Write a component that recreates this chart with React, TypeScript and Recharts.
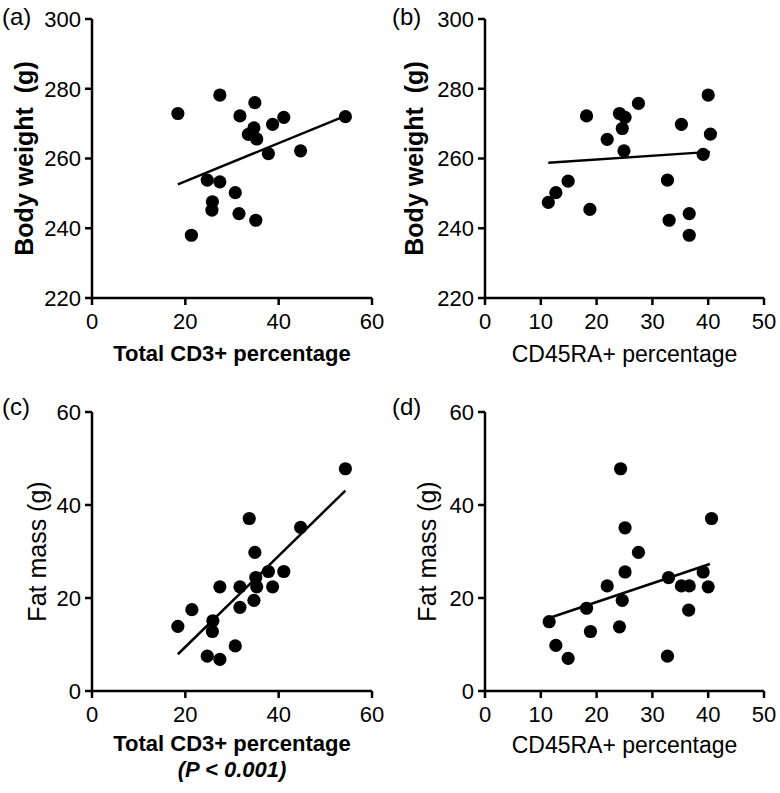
import React from 'react'
import { Scatter, ScatterChart, XAxis, YAxis, Label } from 'recharts'

const FONT = '"Liberation Sans", Arial, Helvetica, sans-serif'

// (a) Body weight vs total CD3+ percentage
const cd3PctA = [18.4, 27.4, 34.9, 31.7, 41.1, 38.7, 34.7, 33.5, 35.3, 37.8, 44.7, 54.3, 24.7, 27.4, 30.7, 25.8, 25.7, 31.5, 35.1, 21.3]
const bodyWeightA = [272.9, 278.2, 276.0, 272.2, 271.8, 269.8, 268.8, 266.9, 265.6, 261.4, 262.2, 272.0, 253.8, 253.3, 250.2, 247.6, 245.2, 244.2, 242.3, 238.0]
const fitA_x = [18.4, 54.3]
const fitA_y = [252.6, 272.2]

// (b) Body weight vs CD45RA+ percentage
const cd45PctB = [11.35, 12.7, 14.9, 18.8, 18.2, 21.9, 24.1, 25.1, 24.6, 24.9, 27.5, 32.7, 33.0, 35.2, 36.6, 36.6, 39.1, 40.0, 40.4]
const bodyWeightB = [247.4, 250.2, 253.5, 245.4, 272.2, 265.5, 272.9, 271.8, 268.6, 262.2, 275.8, 253.8, 242.3, 269.8, 244.2, 238.0, 261.2, 278.2, 267.0]
const fitB_x = [11.35, 40.3]
const fitB_y = [258.8, 261.9]

// (c) Fat mass vs total CD3+ percentage
const cd3PctC = [18.4, 21.4, 25.9, 25.8, 24.7, 27.4, 27.4, 30.7, 31.7, 31.7, 33.7, 34.7, 34.9, 35.1, 35.3, 37.8, 38.7, 41.1, 44.7, 54.3]
const fatMassC = [13.9, 17.5, 15.1, 12.8, 7.5, 6.8, 22.4, 9.7, 22.4, 18.0, 37.1, 19.5, 29.8, 24.4, 22.4, 25.7, 22.4, 25.7, 35.2, 47.8]
const fitC_x = [18.4, 54.3]
const fitC_y = [7.9, 43.1]

// (d) Fat mass vs CD45RA+ percentage
const cd45PctD = [11.5, 12.7, 14.9, 18.2, 18.9, 21.9, 24.1, 24.3, 24.6, 25.1, 25.1, 27.5, 32.9, 32.7, 35.2, 36.6, 36.5, 39.1, 40.0, 40.6]
const fatMassD = [14.9, 9.8, 7.0, 17.8, 12.8, 22.6, 13.8, 47.8, 19.5, 35.1, 25.6, 29.8, 24.4, 7.5, 22.6, 22.6, 17.4, 25.6, 22.4, 37.1]
const fitD_x = [11.5, 40.3]
const fitD_y = [15.7, 27.3]

const cd3Ticks = [0, 20, 40, 60]
const cd45Ticks = [0, 10, 20, 30, 40, 50]
const bodyWeightTicks = [220, 240, 260, 280, 300]
const fatMassTicks = [0, 20, 40, 60]

const zip = (xs: number[], ys: number[]) => xs.map((x, i) => ({ x, y: ys[i] }))

const Dot = (props: any) => <circle cx={props.cx} cy={props.cy} r={6.6} fill="#000" />

interface PanelProps {
  tag: string
  left: number
  top: number
  height: number
  plot: { left: number; right: number; top: number; bottom: number }
  xDomain: [number, number]
  xTicks: number[]
  yDomain: [number, number]
  yTicks: number[]
  points: { x: number; y: number }[]
  fit: { x: number; y: number }[]
  xTitle: string
  xTitleBold: boolean
  xNote?: string
  yTitle: string
  yTitleBold: boolean
  yTitleX: number
  xTitleOffset: number
  tagY: number
}

function Panel(p: PanelProps) {
  const width = 390
  const plotW = p.plot.right - p.plot.left
  const cx = p.plot.left - p.left + plotW / 2
  const cy = (p.plot.top + p.plot.bottom) / 2 - p.top
  const axisStyle = { stroke: '#000', strokeWidth: 2.5 }
  const tickStyle = { fill: '#000', fontSize: 22, fontFamily: FONT }

  return (
    <div style={{ position: 'absolute', left: p.left, top: p.top, width, height: p.height }}>
      <div style={{ position: 'absolute', left: 2, top: p.tagY - p.top - 15, fontFamily: FONT, fontSize: 24, lineHeight: '30px', color: '#000' }}>
        {p.tag}
      </div>
      <ScatterChart
        width={width}
        height={p.height}
        margin={{ top: p.plot.top - p.top, right: p.left + width - p.plot.right, bottom: 0, left: 0 }}
      >
        <XAxis
          type="number"
          dataKey="x"
          domain={p.xDomain}
          ticks={p.xTicks}
          interval={0}
          height={p.top + p.height - p.plot.bottom}
          axisLine={axisStyle}
          tickLine={axisStyle}
          tickSize={7}
          tickMargin={8}
          tick={tickStyle}
        >
          <Label
            content={() => (
              <g>
                <text
                  x={cx}
                  y={p.plot.bottom - p.top + p.xTitleOffset}
                  textAnchor="middle"
                  fontFamily={FONT}
                  fontSize={p.xTitleBold ? 22 : 23}
                  fontWeight={p.xTitleBold ? 'bold' : 'normal'}
                  fill="#000"
                >
                  {p.xTitle}
                </text>
                {p.xNote && (
                  <text
                    x={cx}
                    y={p.plot.bottom - p.top + p.xTitleOffset + 26}
                    textAnchor="middle"
                    fontFamily={FONT}
                    fontSize={22}
                    fontWeight="bold"
                    fontStyle="italic"
                    fill="#000"
                  >
                    {p.xNote}
                  </text>
                )}
              </g>
            )}
          />
        </XAxis>
        <YAxis
          type="number"
          dataKey="y"
          domain={p.yDomain}
          ticks={p.yTicks}
          interval={0}
          width={p.plot.left - p.left}
          axisLine={axisStyle}
          tickLine={axisStyle}
          tickSize={7}
          tickMargin={4}
          tick={tickStyle}
        >
          <Label
            content={() => (
              <text
                x={p.yTitleX}
                y={cy}
                transform={`rotate(-90, ${p.yTitleX}, ${cy})`}
                textAnchor="middle"
                dominantBaseline="central"
                fontFamily={FONT}
                fontSize={25}
                fontWeight={p.yTitleBold ? 'bold' : 'normal'}
                fill="#000"
                style={{ whiteSpace: 'pre' }}
              >
                {p.yTitle}
              </text>
            )}
          />
        </YAxis>
        <Scatter data={p.points} shape={Dot} isAnimationActive={false} />
        <Scatter
          data={p.fit}
          line={{ stroke: '#000', strokeWidth: 2.5 }}
          shape={() => <g />}
          isAnimationActive={false}
        />
      </ScatterChart>
    </div>
  )
}

export default function App() {
  return (
    <div style={{ position: 'absolute', left: 0, top: 0, width: 780, height: 793, background: '#fff' }}>
      <Panel
        tag="(a)"
        left={0}
        top={0}
        height={380}
        plot={{ left: 92, right: 372, top: 19, bottom: 298 }}
        xDomain={[0, 60]}
        xTicks={cd3Ticks}
        yDomain={[220, 300]}
        yTicks={bodyWeightTicks}
        points={zip(cd3PctA, bodyWeightA)}
        fit={zip(fitA_x, fitA_y)}
        xTitle="Total CD3+ percentage"
        xTitleBold
        yTitle="Body weight  (g)"
        yTitleBold
        yTitleX={24}
        xTitleOffset={63}
        tagY={17}
      />
      <Panel
        tag="(b)"
        left={390}
        top={0}
        height={380}
        plot={{ left: 485, right: 764, top: 19, bottom: 298 }}
        xDomain={[0, 50]}
        xTicks={cd45Ticks}
        yDomain={[220, 300]}
        yTicks={bodyWeightTicks}
        points={zip(cd45PctB, bodyWeightB)}
        fit={zip(fitB_x, fitB_y)}
        xTitle="CD45RA+ percentage"
        xTitleBold={false}
        yTitle="Body weight  (g)"
        yTitleBold
        yTitleX={24}
        xTitleOffset={64}
        tagY={17}
      />
      <Panel
        tag="(c)"
        left={0}
        top={380}
        height={413}
        plot={{ left: 92, right: 372, top: 412, bottom: 691 }}
        xDomain={[0, 60]}
        xTicks={cd3Ticks}
        yDomain={[0, 60]}
        yTicks={fatMassTicks}
        points={zip(cd3PctC, fatMassC)}
        fit={zip(fitC_x, fitC_y)}
        xTitle="Total CD3+ percentage"
        xTitleBold
        xNote="(P < 0.001)"
        yTitle="Fat mass (g)"
        yTitleBold={false}
        yTitleX={37}
        xTitleOffset={60}
        tagY={407}
      />
      <Panel
        tag="(d)"
        left={390}
        top={380}
        height={413}
        plot={{ left: 485, right: 764, top: 412, bottom: 691 }}
        xDomain={[0, 50]}
        xTicks={cd45Ticks}
        yDomain={[0, 60]}
        yTicks={fatMassTicks}
        points={zip(cd45PctD, fatMassD)}
        fit={zip(fitD_x, fitD_y)}
        xTitle="CD45RA+ percentage"
        xTitleBold={false}
        yTitle="Fat mass (g)"
        yTitleBold={false}
        yTitleX={37}
        xTitleOffset={62}
        tagY={407}
      />
    </div>
  )
}
